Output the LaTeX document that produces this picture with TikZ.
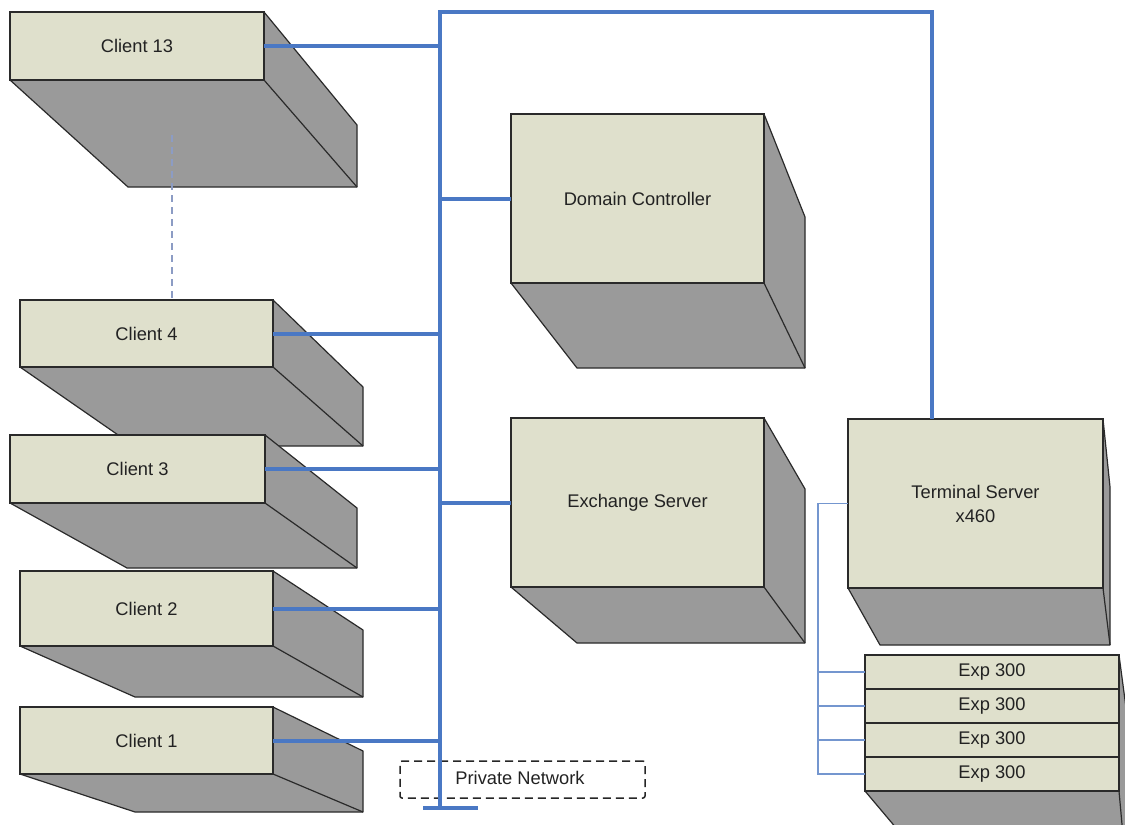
\documentclass[tikz,border=0pt]{standalone}
\usepackage{fontspec}
\setmainfont{Liberation Sans}
\usetikzlibrary{backgrounds}
\definecolor{facec}{HTML}{DFE0CC}
\definecolor{sidec}{HTML}{9A9A9A}
\definecolor{edgec}{HTML}{2A2A2A}
\definecolor{busc}{HTML}{4A78C4}
\definecolor{thinc}{HTML}{7496CF}
\definecolor{dashc}{HTML}{8C9CC4}
\definecolor{txtc}{HTML}{222222}
\tikzset{
  front/.style={draw=edgec, fill=facec, line width=1.4pt, inner sep=0pt, outer sep=0pt,
    anchor=north west, align=center, text=txtc, font=\fontsize{18.3}{24}\selectfont},
  sideface/.style={draw=edgec, fill=sidec, line width=1.2pt, line join=round},
  sideedge/.style={draw=edgec, line width=1.2pt},
  bus/.style={draw=busc, line width=4pt},
  busthin/.style={draw=thinc, line width=1.2pt},
  linkdash/.style={draw=dashc, line width=1.3pt, dash pattern=on 7pt off 5pt},
  netbox/.style={draw=black!85, line width=1.5pt, dash pattern=on 8pt off 5pt, rounded corners=2pt,
    inner sep=0pt, outer sep=0pt, anchor=north west}
}
\begin{document}
\begin{tikzpicture}[x=1pt, y=-1pt]
\useasboundingbox (0,0) rectangle (1125,825);
\clip (0,0) rectangle (1125,825);

% front faces
\node[front, minimum width=254pt, minimum height=68pt] (c13) at (10,12) {Client 13};
\node[front, minimum width=253pt, minimum height=67pt] (c4) at (20,300) {Client 4};
\node[front, minimum width=255pt, minimum height=68pt] (c3) at (10,435) {Client 3};
\node[front, minimum width=253pt, minimum height=75pt] (c2) at (20,571) {Client 2};
\node[front, minimum width=253pt, minimum height=67pt] (c1) at (20,707) {Client 1};
\node[front, minimum width=253pt, minimum height=169pt] (dc) at (511,114) {Domain Controller};
\node[front, minimum width=253pt, minimum height=169pt] (ex) at (511,418) {Exchange Server};
\node[front, minimum width=255pt, minimum height=169pt] (ts) at (848,419) {Terminal Server\\x460};
\node[front, minimum width=254pt, minimum height=34pt] (e1) at (865,655) {Exp 300};
\node[front, minimum width=254pt, minimum height=34pt] (e2) at (865,689) {Exp 300};
\node[front, minimum width=254pt, minimum height=34pt] (e3) at (865,723) {Exp 300};
\node[front, minimum width=254pt, minimum height=34pt] (e4) at (865,757) {Exp 300};

% extruded sides
\begin{scope}[on background layer]
  \path[sideface] (c13.north east) -- (357,125) -- (357,187) -- (128,187) -- (c13.south west) -- cycle;
  \path[sideedge] (c13.south east) -- (357,187);
  \path[sideface] (c4.north east) -- (363,387) -- (363,446) -- (134,446) -- (c4.south west) -- cycle;
  \path[sideedge] (c4.south east) -- (363,446);
  \path[sideface] (c3.north east) -- (357,508) -- (357,568) -- (127,568) -- (c3.south west) -- cycle;
  \path[sideedge] (c3.south east) -- (357,568);
  \path[sideface] (c2.north east) -- (363,630) -- (363,697) -- (135,697) -- (c2.south west) -- cycle;
  \path[sideedge] (c2.south east) -- (363,697);
  \path[sideface] (c1.north east) -- (363,751) -- (363,812) -- (135,812) -- (c1.south west) -- cycle;
  \path[sideedge] (c1.south east) -- (363,812);
  \path[sideface] (dc.north east) -- (805,217) -- (805,368) -- (577,368) -- (dc.south west) -- cycle;
  \path[sideedge] (dc.south east) -- (805,368);
  \path[sideface] (ex.north east) -- (805,489) -- (805,643) -- (577,643) -- (ex.south west) -- cycle;
  \path[sideedge] (ex.south east) -- (805,643);
  \path[sideface] (ts.north east) -- (1110,487) -- (1110,645) -- (880,645) -- (ts.south west) -- cycle;
  \path[sideedge] (ts.south east) -- (1110,645);
  \path[sideface] (e1.north east) -- (1127,715) -- (1127,880) -- (940,880) -- (e4.south west) -- cycle;
  \path[sideedge] (e4.south east) -- (1127,880);
\end{scope}

% private network label
\node[netbox, minimum width=245pt, minimum height=37pt] (pn) at (400,761) {};
\node[text=txtc, font=\fontsize{18.3}{24}\selectfont, inner sep=0pt] (pnl) at (520,778) {Private Network};

% bus
\coordinate (bustop) at (440,12);
\coordinate (busbot) at (440,808);
\coordinate (stubl) at (423,808);
\coordinate (stubr) at (478,808);
\path[bus] (busbot) -- (bustop) -| ([xshift=84pt]ts.north west);
\path[bus] (stubl) -- (stubr);
\path[bus] (c13.east) -- (c13.east -| bustop);
\path[bus] (c4.east) -- (c4.east -| bustop);
\path[bus] (c3.east) -- (c3.east -| bustop);
\path[bus] (c2.east) -- (c2.east -| bustop);
\path[bus] (c1.east) -- (c1.east -| bustop);
\path[bus] (dc.west -| bustop) -- (dc.west);
\path[bus] (ex.west -| bustop) -- (ex.west);

% client ellipsis link
\coordinate (dtop) at (172,135);
\path[linkdash] (dtop) -- (dtop |- c4.north);

% terminal server to expansion units
\coordinate (tapx) at (818,0);
\path[busthin] (ts.west) -- (ts.west -| tapx) -- (e4.west -| tapx) -- (e4.west);
\path[busthin] (e1.west -| tapx) -- (e1.west);
\path[busthin] (e2.west -| tapx) -- (e2.west);
\path[busthin] (e3.west -| tapx) -- (e3.west);
\end{tikzpicture}
\end{document}
